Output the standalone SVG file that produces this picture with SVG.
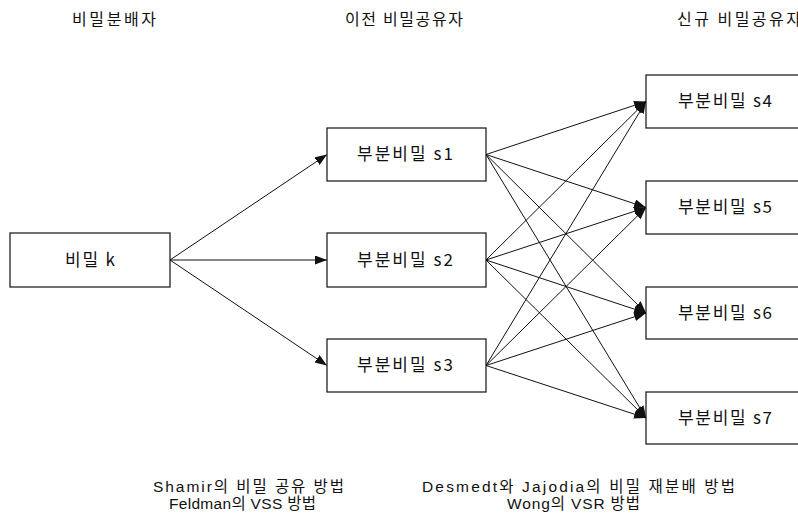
<svg xmlns="http://www.w3.org/2000/svg" width="798" height="514" viewBox="0 0 798 514">
<style>
  .box { fill: #fff; stroke: #111; stroke-width: 1.2; }
  .lbl { font-family: "Noto Sans CJK KR", "Liberation Sans", sans-serif; font-size: 17px; fill: #111; }
  .hdr { font-family: "Noto Sans CJK KR", "Liberation Sans", sans-serif; font-size: 16px; fill: #111; }
  .cap { font-family: "Liberation Sans", "Noto Sans CJK KR", sans-serif; font-size: 15.5px; fill: #111; }
  .edge { stroke: #111; stroke-width: 1; fill: none; marker-end: url(#ah); }
</style>
<defs>
  <marker id="ah" markerUnits="userSpaceOnUse" markerWidth="13" markerHeight="10" refX="12" refY="4.5" orient="auto">
    <path d="M0,0 L12,4.5 L0,9 z" fill="#111"/>
  </marker>
</defs>
<rect width="798" height="514" fill="#fff"/>

<g id="headers">
  <text class="hdr" x="72" y="25" textLength="84" lengthAdjust="spacing">비밀분배자</text>
  <text class="hdr" x="345" y="25" textLength="118" lengthAdjust="spacing">이전 비밀공유자</text>
  <text class="hdr" x="677" y="25" textLength="124" lengthAdjust="spacing">신규 비밀공유자</text>
</g>

<g id="connectors">
  <line class="edge" x1="170" y1="260" x2="327" y2="154.5"/>
  <line class="edge" x1="170" y1="260" x2="327" y2="260"/>
  <line class="edge" x1="170" y1="260" x2="327" y2="365.5"/>

  <line class="edge" x1="486" y1="154.5" x2="646" y2="101.5"/>
  <line class="edge" x1="486" y1="154.5" x2="646" y2="207.5"/>
  <line class="edge" x1="486" y1="154.5" x2="646" y2="313"/>
  <line class="edge" x1="486" y1="154.5" x2="646" y2="418"/>

  <line class="edge" x1="486" y1="260" x2="646" y2="101.5"/>
  <line class="edge" x1="486" y1="260" x2="646" y2="207.5"/>
  <line class="edge" x1="486" y1="260" x2="646" y2="313"/>
  <line class="edge" x1="486" y1="260" x2="646" y2="418"/>

  <line class="edge" x1="486" y1="365.5" x2="646" y2="101.5"/>
  <line class="edge" x1="486" y1="365.5" x2="646" y2="207.5"/>
  <line class="edge" x1="486" y1="365.5" x2="646" y2="313"/>
  <line class="edge" x1="486" y1="365.5" x2="646" y2="418"/>
</g>

<g id="k">
  <rect class="box" x="10" y="233" width="160" height="54"/>
  <text class="lbl" x="65" y="266" textLength="50" lengthAdjust="spacing">비밀 k</text>
</g>
<g id="s1">
  <rect class="box" x="327" y="128" width="159" height="53"/>
  <text class="lbl" x="357" y="160" textLength="96" lengthAdjust="spacing">부분비밀 s1</text>
</g>
<g id="s2">
  <rect class="box" x="327" y="233" width="159" height="54"/>
  <text class="lbl" x="357" y="266" textLength="96" lengthAdjust="spacing">부분비밀 s2</text>
</g>
<g id="s3">
  <rect class="box" x="327" y="339" width="159" height="53"/>
  <text class="lbl" x="357" y="371" textLength="96" lengthAdjust="spacing">부분비밀 s3</text>
</g>
<g id="s4">
  <rect class="box" x="646" y="75" width="170" height="53"/>
  <text class="lbl" x="678" y="107" textLength="94" lengthAdjust="spacing">부분비밀 s4</text>
</g>
<g id="s5">
  <rect class="box" x="646" y="181" width="170" height="53"/>
  <text class="lbl" x="678" y="213" textLength="94" lengthAdjust="spacing">부분비밀 s5</text>
</g>
<g id="s6">
  <rect class="box" x="646" y="287" width="170" height="52"/>
  <text class="lbl" x="678" y="319" textLength="94" lengthAdjust="spacing">부분비밀 s6</text>
</g>
<g id="s7">
  <rect class="box" x="646" y="392" width="170" height="52"/>
  <text class="lbl" x="678" y="424" textLength="94" lengthAdjust="spacing">부분비밀 s7</text>
</g>

<g id="captions">
  <text class="cap" x="153" y="492" textLength="191" lengthAdjust="spacing">Shamir의 비밀 공유 방법</text>
  <text class="cap" x="169" y="509" textLength="147" lengthAdjust="spacing">Feldman의 VSS 방법</text>
  <text class="cap" x="422" y="492" textLength="313" lengthAdjust="spacing">Desmedt와 Jajodia의 비밀 재분배 방법</text>
  <text class="cap" x="507" y="509" textLength="133" lengthAdjust="spacing">Wong의 VSR 방법</text>
</g>
</svg>
